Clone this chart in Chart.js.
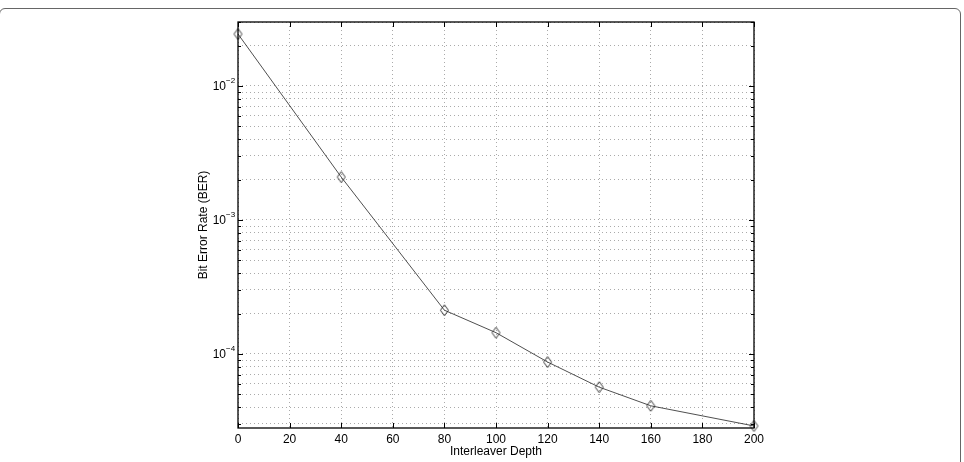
<!DOCTYPE html>
<html>
<head>
<meta charset="utf-8">
<script src="https://cdn.jsdelivr.net/npm/chart.js@4"></script>
<style>
  html, body { margin: 0; padding: 0; background: #fff; overflow: hidden; }
  #wrap { position: relative; width: 964px; height: 462px; }
  #frame { position: absolute; left: -1px; top: 8px; width: 962px; height: 470px;
           border: 1px solid #666; border-radius: 6px; box-sizing: border-box; }
  canvas { position: absolute; left: 0; top: 0; }
</style>
</head>
<body>
<div id="wrap">
  <div id="frame"></div>
  <canvas id="berChart" width="964" height="462"></canvas>
</div>
<script>
// interleaver depth vs BER
const depths = [0, 40, 80, 100, 120, 140, 160, 200];
const berValues = [0.0244, 0.00209, 0.000212, 0.000144, 0.000087, 0.0000565, 0.000041, 0.0000290];
const xTicks = [0, 20, 40, 60, 80, 100, 120, 140, 160, 180, 200];
const yDecades = [0.0001, 0.001, 0.01];
const yDecadeExp = ['−4', '−3', '−2'];
const yMin = 0.000028, yMax = 0.03;

// minor grid values 1..9 x 10^e that fall inside the axis range
const yGridValues = [];
for (let e = -5; e <= -2; e++) {
  for (let k = 1; k <= 9; k++) {
    const v = k * Math.pow(10, e);
    if (v >= yMin && v <= yMax) yGridValues.push(v);
  }
}

const fontFamily = "'Liberation Sans', Arial, sans-serif";
const font = { family: fontFamily, size: 12 };

// tall hollow diamond marker like matlab's 'd'
function diamondMarker() {
  const c = document.createElement('canvas');
  c.width = 11; c.height = 13;
  const g = c.getContext('2d');
  g.strokeStyle = '#222';
  g.lineWidth = 0.9;
  g.beginPath();
  g.moveTo(5.5, 1); g.lineTo(9.5, 6.5); g.lineTo(5.5, 12); g.lineTo(1.5, 6.5); g.closePath();
  g.stroke();
  return c;
}

// box around the plot, inward ticks and the 10^n labels
const boxPlugin = {
  id: 'box',
  afterDraw(chart) {
    const { ctx, chartArea: a, scales } = chart;
    ctx.save();
    ctx.strokeStyle = '#000';
    ctx.lineWidth = 1;
    ctx.beginPath();
    xTicks.forEach(t => {
      const x = Math.round(scales.x.getPixelForValue(t)) + 0.5;
      ctx.moveTo(x, a.bottom); ctx.lineTo(x, a.bottom - 5);
      ctx.moveTo(x, a.top); ctx.lineTo(x, a.top + 5);
    });
    yGridValues.forEach(v => {
      const y = Math.round(scales.y.getPixelForValue(v)) + 0.5;
      const len = yDecades.includes(v) ? 5 : 3;
      ctx.moveTo(a.left, y); ctx.lineTo(a.left + len, y);
      ctx.moveTo(a.right, y); ctx.lineTo(a.right - len, y);
    });
    ctx.stroke();
    ctx.lineWidth = 1.3;
    ctx.strokeRect(a.left, a.top, a.right - a.left, a.bottom - a.top);

    ctx.fillStyle = '#000';
    ctx.textBaseline = 'middle';
    yDecades.forEach((v, i) => {
      const y = scales.y.getPixelForValue(v);
      ctx.font = '12px ' + fontFamily;
      ctx.textAlign = 'right';
      ctx.fillText('10', a.left - 12, y + 1);
      ctx.font = '8px ' + fontFamily;
      ctx.textAlign = 'left';
      ctx.fillText(yDecadeExp[i], a.left - 12, y - 5);
    });
    ctx.restore();
  }
};

const ctx = document.getElementById('berChart').getContext('2d');
const berChart = new Chart(ctx, {
  type: 'line',
  data: {
    datasets: [{
      label: 'BER',
      data: depths.map((d, i) => ({ x: d, y: berValues[i] })),
      borderColor: '#222',
      borderWidth: 0.8,
      pointStyle: diamondMarker(),
      tension: 0,
      clip: false
    }]
  },
  options: {
    responsive: false,
    animation: false,
    layout: { padding: { left: 196, right: 210, top: 22, bottom: 3 } },
    plugins: { legend: { display: false }, tooltip: { enabled: false } },
    scales: {
      x: {
        type: 'linear',
        min: 0, max: 200,
        afterBuildTicks: s => { s.ticks = xTicks.map(v => ({ value: v })); },
        afterFit: s => { s.height = 31; },
        grid: { color: '#aaa', lineWidth: 1, drawTicks: false },
        border: { display: false, dash: [1, 3] },
        ticks: { color: '#000', font, padding: 4, maxRotation: 0 },
        title: { display: true, text: 'Interleaver Depth', color: '#000', font, padding: 0 }
      },
      y: {
        type: 'logarithmic',
        min: yMin, max: yMax,
        afterBuildTicks: s => { s.ticks = yGridValues.map(v => ({ value: v })); },
        afterFit: s => { s.width = 42; },
        grid: { color: '#aaa', lineWidth: 1, drawTicks: false },
        border: { display: false, dash: [1, 3] },
        ticks: { color: '#000', font, padding: 5, autoSkip: false, callback: () => '' },
        title: { display: true, text: 'Bit Error Rate (BER)', color: '#000', font, padding: 0 }
      }
    }
  },
  plugins: [boxPlugin]
});
</script>
</body>
</html>
